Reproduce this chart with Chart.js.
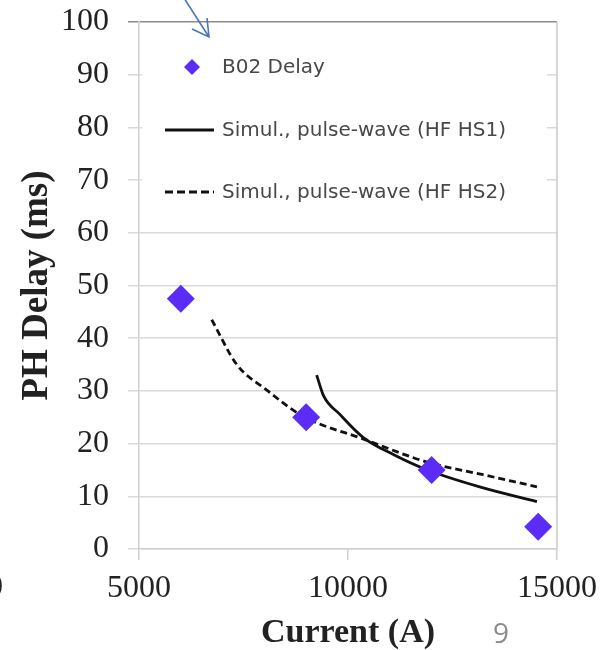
<!DOCTYPE html>
<html>
<head>
<meta charset="utf-8">
<title>PH Delay vs Current</title>
<script src="https://cdn.jsdelivr.net/npm/chart.js@4.4.1/dist/chart.umd.min.js"></script>
<style>
    body { margin: 0; background: #ffffff; }
    #chartBox { width: 602px; height: 650px; }
</style>
</head>
<body>
<div id="chartBox">
    <canvas id="delayChart" width="602" height="650"></canvas>
</div>
<script>
// Measured points (B02 delay)
const b02Current = [6000, 9000, 12000, 14550];
const b02Delay = [47.5, 25, 15, 4.2];

// Simulation, pulse-wave (HF HS1)
const hs1Current = [9250, 9420, 9800, 10360, 11120, 11900, 13150, 14520];
const hs1Delay = [33, 29, 25.6, 21.2, 17.8, 15, 11.8, 9];

// Simulation, pulse-wave (HF HS2)
const hs2Current = [6740, 7340, 8050, 8920, 10360, 11890, 13230, 14520];
const hs2Delay = [43.5, 35, 30.2, 25.2, 20.9, 16.5, 14.1, 11.8];

// Axis ticks
const xTicks = [5000, 10000, 15000];
const yTicks = [0, 10, 20, 30, 40, 50, 60, 70, 80, 90, 100];

const seriesLabels = ["B02 Delay", "Simul., pulse-wave (HF HS1)", "Simul., pulse-wave (HF HS2)"];

// helper: zip two arrays into {x, y} points
function toPoints(xs, ys) {
    return xs.map((x, i) => ({ x: x, y: ys[i] }));
}

const serif = "'Liberation Serif', 'Times New Roman', serif";

// Legend drawn inside the plot area on a white box (like the Excel original)
function drawInsideLegend(chart) {
    const g = chart.ctx;
    const area = chart.chartArea;
    g.save();
    g.fillStyle = "#ffffff";
    g.fillRect(area.left + 3, area.top + 3, 405, 203);

    const rows = [67, 130, 192];
    g.font = "20px 'DejaVu Sans', sans-serif";
    g.textBaseline = "middle";
    chart.data.datasets.forEach((ds, i) => {
        const y = rows[i];
        if (ds.showLine) {
            g.beginPath();
            g.strokeStyle = ds.borderColor;
            g.lineWidth = 3;
            g.setLineDash(ds.borderDash ? [8, 4] : []);
            g.moveTo(165, y);
            g.lineTo(214, y);
            g.stroke();
            g.setLineDash([]);
        } else {
            g.beginPath();
            g.fillStyle = ds.backgroundColor;
            g.moveTo(192, y - 8);
            g.lineTo(200, y);
            g.lineTo(192, y + 8);
            g.lineTo(184, y);
            g.closePath();
            g.fill();
        }
        g.fillStyle = "#484848";
        g.fillText(ds.label, 222, y + 1);
    });
    g.restore();
}

// Legend, frame on the right, arrow and page number
const extras = {
    id: "extras",
    afterDraw(chart) {
        drawInsideLegend(chart);

        const g = chart.ctx;
        const area = chart.chartArea;
        g.save();
        // right border
        g.strokeStyle = "#c8c8c8";
        g.lineWidth = 1.5;
        g.beginPath();
        g.moveTo(area.right, area.top);
        g.lineTo(area.right, area.bottom);
        g.stroke();

        // blue arrow pointing at legend
        g.strokeStyle = "#4a76b8";
        g.lineWidth = 1.6;
        g.beginPath();
        g.moveTo(184, -2);
        g.lineTo(209, 37);
        g.moveTo(192, 29);
        g.lineTo(209, 37);
        g.lineTo(207, 18);
        g.stroke();

        // page number
        g.fillStyle = "#8c8c8c";
        g.font = "28px 'Open Sans', sans-serif";
        g.textAlign = "center";
        g.textBaseline = "middle";
        g.fillText("9", 501, 635);

        // cut-off label at left edge
        g.fillStyle = "#222222";
        g.font = "32px " + serif;
        g.fillText("0", -5, 588);
        g.restore();
    }
};

const config = {
    type: "scatter",
    data: {
        datasets: [{
            label: seriesLabels[0],
            data: toPoints(b02Current, b02Delay),
            pointStyle: "rectRot",
            pointRadius: 14,
            backgroundColor: "#5a2cf6",
            borderColor: "#5a2cf6",
            borderWidth: 0,
            showLine: false
        }, {
            label: seriesLabels[1],
            data: toPoints(hs1Current, hs1Delay),
            showLine: true,
            pointRadius: 0,
            borderColor: "#111111",
            borderWidth: 2.8,
            cubicInterpolationMode: "monotone"
        }, {
            label: seriesLabels[2],
            data: toPoints(hs2Current, hs2Delay),
            showLine: true,
            pointRadius: 0,
            borderColor: "#111111",
            borderWidth: 2.8,
            borderDash: [7, 4],
            cubicInterpolationMode: "monotone"
        }]
    },
    options: {
        responsive: false,
        animation: false,
        layout: {
            padding: { top: 22, right: 45, left: 10, bottom: 0 }
        },
        plugins: {
            legend: { display: false },
            tooltip: { enabled: false }
        },
        scales: {
            x: {
                type: "linear",
                min: 5000,
                max: 15000,
                afterBuildTicks: (scale) => { scale.ticks = xTicks.map(v => ({ value: v })); },
                afterFit: (scale) => {
                    scale.height = 101;
                    scale.paddingLeft = 0;
                    scale.paddingRight = 0;
                },
                ticks: {
                    color: "#222222",
                    font: { family: serif, size: 32, lineHeight: 1.2 },
                    padding: 9,
                    maxRotation: 0,
                    callback: (v) => String(v)
                },
                grid: {
                    drawOnChartArea: false,
                    tickLength: 11,
                    tickColor: "#d0d0d0",
                    lineWidth: 1.5
                },
                border: { color: "#d0d0d0", width: 1.5 },
                title: {
                    display: true,
                    text: "Current (A)",
                    color: "#222222",
                    font: { family: serif, size: 34, weight: "bold", lineHeight: 1 },
                    padding: 0
                }
            },
            y: {
                min: 0,
                max: 100,
                afterBuildTicks: (scale) => { scale.ticks = yTicks.map(v => ({ value: v })); },
                afterFit: (scale) => {
                    scale.width = 129;
                    scale.paddingTop = 0;
                    scale.paddingBottom = 0;
                },
                ticks: {
                    color: "#222222",
                    font: { family: serif, size: 32 },
                    padding: 19
                },
                grid: {
                    color: (c) => c.tick && c.tick.value === 100 ? "#8c8c8c" : "#d9d9d9",
                    lineWidth: 1.5,
                    tickLength: 11
                },
                border: { color: "#d0d0d0", width: 1.5 },
                title: {
                    display: true,
                    text: "PH Delay (ms)",
                    color: "#222222",
                    font: { family: serif, size: 37, weight: "bold" },
                    padding: { top: 5, bottom: 0 }
                }
            }
        }
    },
    plugins: [extras]
};

// Render the chart
new Chart(document.getElementById("delayChart"), config);
</script>
</body>
</html>
